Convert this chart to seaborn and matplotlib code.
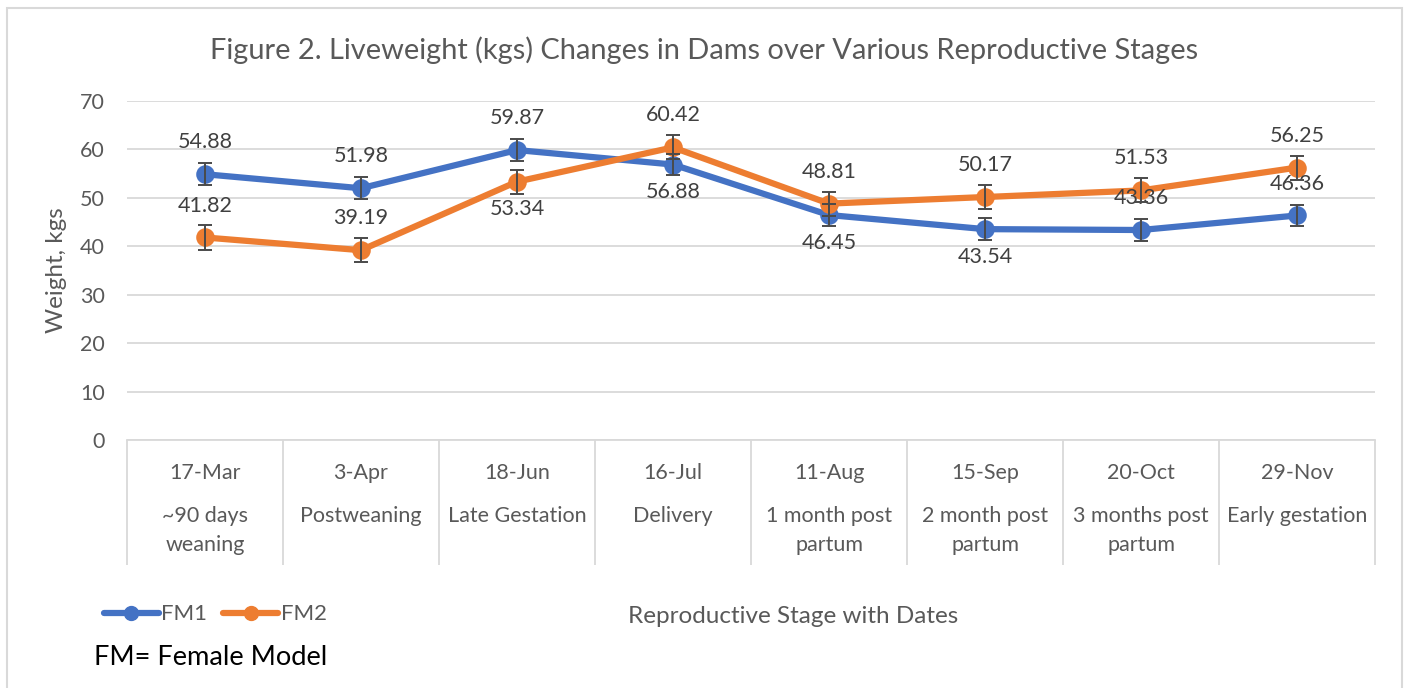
import numpy as np
import pandas as pd
import matplotlib.pyplot as plt
import matplotlib.patches as mpatches
from matplotlib.lines import Line2D
import seaborn as sns

# data
dates = ['17-Mar', '3-Apr', '18-Jun', '16-Jul', '11-Aug', '15-Sep', '20-Oct', '29-Nov']
stages = ['~90 days\nweaning', 'Postweaning', 'Late Gestation', 'Delivery',
          '1 month post\npartum', '2 month post\npartum', '3 months post\npartum',
          'Early gestation']
fm1 = [54.88, 51.98, 59.87, 56.88, 46.45, 43.54, 43.36, 46.36]
fm2 = [41.82, 39.19, 53.34, 60.42, 48.81, 50.17, 51.53, 56.25]
fm1_err = 2.25
fm2_err = 2.49

# label placement (above / below the point)
fm1_pos = ['above', 'above', 'above', 'below', 'below', 'below', 'above', 'above']
fm2_pos = ['above', 'above', 'below', 'above', 'above', 'above', 'above', 'above']

df = pd.DataFrame({'Date': dates * 2,
                   'Weight': fm1 + fm2,
                   'Series': ['FM1'] * 8 + ['FM2'] * 8})

sns.set_theme(style='white')
plt.rcParams['font.family'] = ['Lato', 'DejaVu Sans']

blue = '#4472C4'
orange = '#ED7D31'
grey_txt = '#595959'
grid_c = '#d9d9d9'

fig = plt.figure(figsize=(14.09, 6.88), dpi=100)
ax = fig.add_axes([0.0901, 0.3605, 0.8858, 0.4927])

sns.pointplot(data=df, x='Date', y='Weight', hue='Series', order=dates,
              palette={'FM1': blue, 'FM2': orange}, markers='o',
              errorbar=None, legend=False, ax=ax,
              markersize=10, linewidth=4.5)

x = np.arange(len(dates))
for vals, err in [(fm1, fm1_err), (fm2, fm2_err)]:
    ax.errorbar(x, vals, yerr=err, fmt='none', ecolor='#4a4a4a',
                elinewidth=1.4, capsize=5, capthick=1.4, zorder=5)

# data labels
for vals, pos in [(fm1, fm1_pos), (fm2, fm2_pos)]:
    for i, (v, p) in enumerate(zip(vals, pos)):
        dy = 23 if p == 'above' else -20
        ax.annotate(f'{v:.2f}', (i, v), xytext=(0, dy), textcoords='offset points',
                    ha='center', va='center', fontsize=15.5, color='#404040')

ax.set_ylim(0, 70)
ax.set_xlim(-0.5, len(dates) - 0.5)
ax.set_yticks(range(0, 71, 10))
ax.yaxis.grid(True, color=grid_c, linewidth=1.3)
ax.set_axisbelow(True)
for s in ['top', 'right', 'left']:
    ax.spines[s].set_visible(False)
ax.spines['bottom'].set_color(grid_c)
ax.spines['bottom'].set_linewidth(1.3)

ax.tick_params(axis='y', length=0, labelsize=15.5, labelcolor=grey_txt, pad=16)
ax.set_xticks(x)
ax.set_xticklabels(dates)
ax.tick_params(axis='x', which='major', bottom=True, length=0, labelsize=15.5,
               labelcolor=grey_txt, pad=16.5)
ax.set_xticks(np.arange(-0.5, len(dates)), minor=True)
ax.tick_params(axis='x', which='minor', bottom=True, length=90, color=grid_c, width=1.3)

for i, st in enumerate(stages):
    ax.text(i, -0.195, st, transform=ax.get_xaxis_transform(), ha='center',
            va='top', fontsize=15.5, color=grey_txt, linespacing=1.55)

ax.set_xlabel('')
ax.set_ylabel('Weight, kgs', fontsize=17.5, color=grey_txt, labelpad=9)

fig.text(0.5, 0.927, 'Figure 2. Liveweight (kgs) Changes in Dams over Various Reproductive Stages',
         ha='center', va='center', fontsize=20.9, color=grey_txt)
fig.text(0.563, 0.104, 'Reproductive Stage with Dates', ha='center', va='center',
         fontsize=17.5, color=grey_txt)
fig.text(0.067, 0.045, 'FM= Female Model', ha='left', va='center',
         fontsize=19.6, color='black')

handles = [Line2D([], [], color=blue, lw=4.5, marker='o', markersize=10),
           Line2D([], [], color=orange, lw=4.5, marker='o', markersize=10)]
fig.legend(handles, ['FM1', 'FM2'], loc='center left', bbox_to_anchor=(0.0735, 0.107),
           ncol=2, frameon=False, handlelength=2.5, handletextpad=0.1,
           columnspacing=0.7, fontsize=16, labelcolor=grey_txt,
           borderaxespad=0, borderpad=0)

# chart border
fig.patches.append(mpatches.Rectangle((0.005, -0.1), 0.9898, 1.0884, transform=fig.transFigure,
                                      fill=False, edgecolor=grid_c, linewidth=1.5))

fig.savefig('out.png', dpi=100)
